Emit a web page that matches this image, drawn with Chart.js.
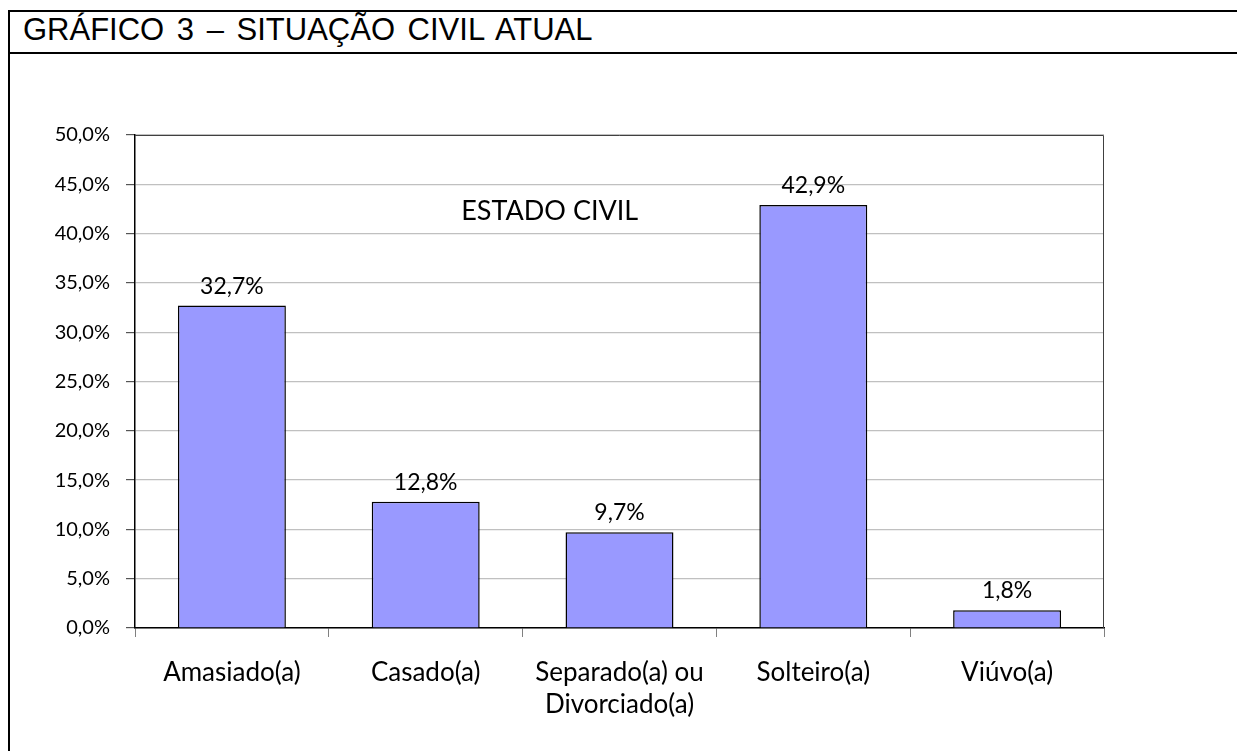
<!DOCTYPE html>
<html>
<head>
<meta charset="utf-8">
<script src="https://cdn.jsdelivr.net/npm/chart.js@4"></script>
<style>
  html, body { margin: 0; padding: 0; background: #fff; }
  #page { position: relative; width: 1237px; height: 751px; overflow: hidden; }
  #frameLeft { position: absolute; left: 8px; top: 10px; width: 2px; height: 741px; background: #000; }
  #frameTop { position: absolute; left: 8px; top: 10px; width: 1229px; height: 2px; background: #000; }
  #frameMid { position: absolute; left: 8px; top: 52px; width: 1229px; height: 2px; background: #000; }
  #heading { position: absolute; left: 23px; top: 12px; font-family: "Liberation Sans", Arial, sans-serif; font-size: 31px; word-spacing: 4px; color: #000; white-space: nowrap; }
  #wrap { position: absolute; left: 12px; top: 56px; width: 1225px; height: 695px; }
</style>
</head>
<body>
<div id="page">
  <div id="frameLeft"></div>
  <div id="frameTop"></div>
  <div id="frameMid"></div>
  <div id="heading">GRÁFICO 3 – SITUAÇÃO CIVIL ATUAL</div>
  <div id="wrap"><canvas id="chart"></canvas></div>
</div>
<script>
const categories = ["Amasiado(a)", "Casado(a)", ["Separado(a) ou", "Divorciado(a)"], "Solteiro(a)", "Viúvo(a)"];
const percentages = [32.7, 12.8, 9.7, 42.9, 1.8];
const yTicks = [0, 5, 10, 15, 20, 25, 30, 35, 40, 45, 50];
const innerTitle = "ESTADO CIVIL";

const fmt = v => v.toFixed(1).replace(".", ",") + "%";
const labelFont = "Lato, 'Noto Sans', sans-serif";

// values above bars, inner title and plot frame
const extras = {
  id: "extras",
  afterDatasetsDraw(chart) {
    const ctx = chart.ctx;
    const area = chart.chartArea;
    ctx.save();
    ctx.fillStyle = "#000";
    ctx.font = "23px " + labelFont;
    ctx.textAlign = "center";
    ctx.textBaseline = "alphabetic";
    chart.getDatasetMeta(0).data.forEach((bar, i) => {
      ctx.fillText(fmt(percentages[i]), bar.x, bar.y - 12);
    });
    ctx.font = "27px " + labelFont;
    ctx.textBaseline = "middle";
    ctx.fillText(innerTitle, area.left + area.width * 0.428, area.top + area.height * 0.155);
    ctx.strokeStyle = "#404040";
    ctx.lineWidth = 1;
    ctx.beginPath();
    ctx.moveTo(area.left, area.top + 0.5);
    ctx.lineTo(area.right - 0.5, area.top + 0.5);
    ctx.lineTo(area.right - 0.5, area.bottom);
    ctx.stroke();
    ctx.restore();
  }
};

new Chart(document.getElementById("chart"), {
  type: "bar",
  data: {
    labels: categories,
    datasets: [{
      data: percentages,
      backgroundColor: "#9999ff",
      borderColor: "#000",
      borderWidth: 1.5,
      categoryPercentage: 1,
      barPercentage: 0.557
    }]
  },
  options: {
    responsive: true,
    maintainAspectRatio: false,
    animation: false,
    layout: { padding: { top: 79, right: 133, left: 0, bottom: 0 } },
    plugins: { legend: { display: false }, tooltip: { enabled: false } },
    scales: {
      y: {
        min: 0,
        max: 50,
        afterBuildTicks: s => { s.ticks = yTicks.map(v => ({ value: v })); },
        afterFit: s => { s.width = 123; },
        border: { color: "#000", width: 1.5 },
        grid: { color: "#c0c0c0", lineWidth: 1.2, tickLength: 9, tickColor: "#555" },
        ticks: { color: "#000", font: { family: labelFont, size: 20 }, padding: 16, callback: v => fmt(v) }
      },
      x: {
        afterFit: s => { s.height = 123; },
        border: { color: "#000", width: 1.5 },
        grid: { offset: true, drawOnChartArea: false, tickLength: 9, tickColor: "#808080" },
        ticks: { color: "#000", font: { family: labelFont, size: 26, lineHeight: 1.22 }, padding: 20, maxRotation: 0 }
      }
    }
  },
  plugins: [extras]
});
</script>
</body>
</html>
